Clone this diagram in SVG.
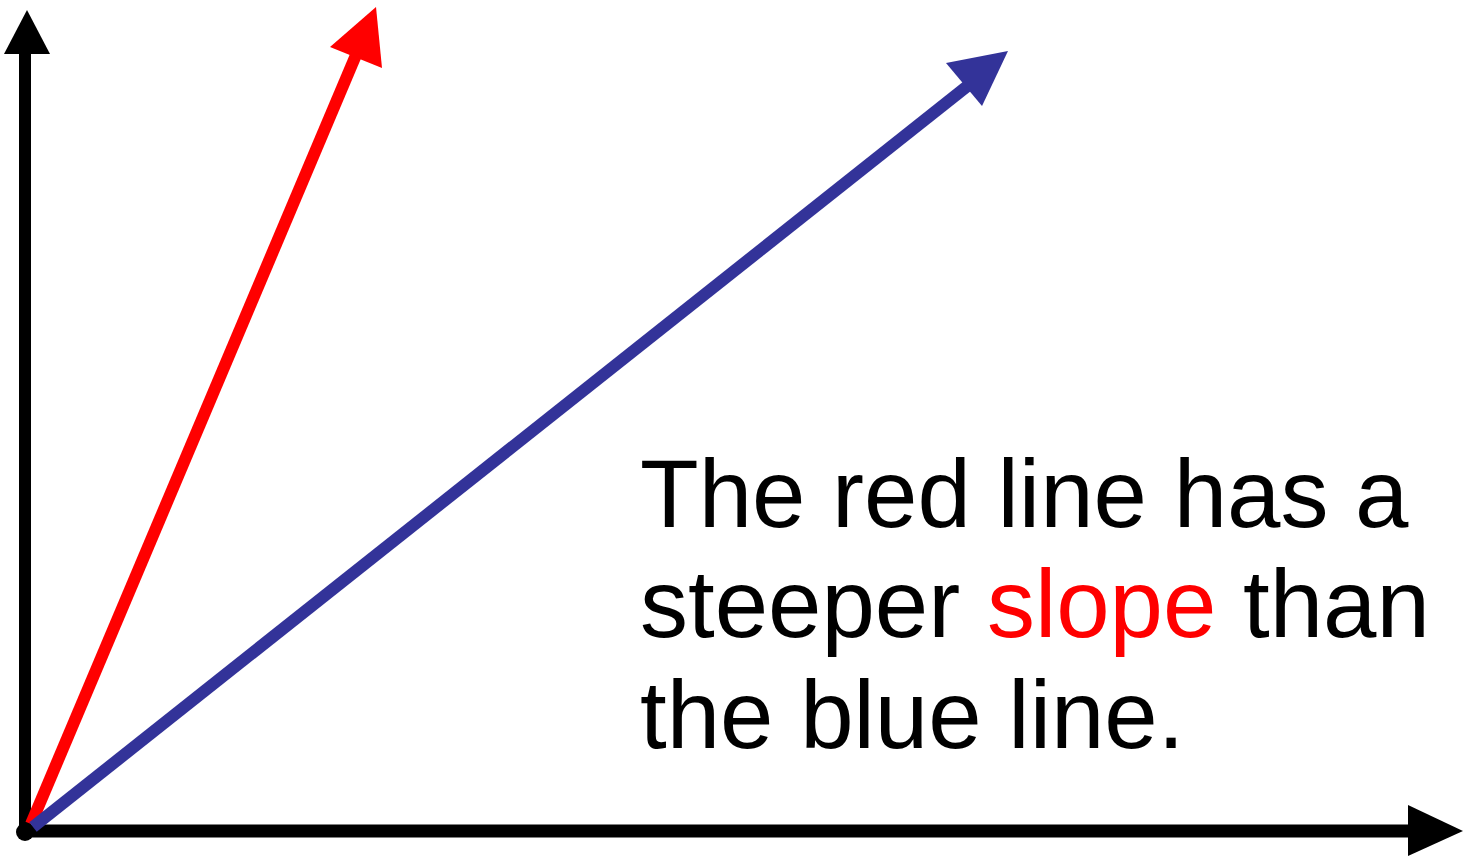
<svg xmlns="http://www.w3.org/2000/svg" width="1463" height="860" viewBox="0 0 1463 860">
<style>
.t{font-family:"Liberation Sans",Arial,sans-serif;font-size:96px;fill:#000}
.r{fill:#ff0000}
</style>
<rect width="1463" height="860" fill="#fff"/>
<g id="connectors">
<line x1="25" y1="831" x2="25" y2="52" stroke="#000" stroke-width="12"/>
<polygon points="27,10 4,54 50,54" fill="#000"/>
<line x1="25" y1="831" x2="1410" y2="831" stroke="#000" stroke-width="13"/>
<polygon points="1463,831 1408,805 1408,856" fill="#000"/>
<circle cx="25" cy="832" r="9" fill="#000"/>
<line x1="31" y1="824" x2="356" y2="55" stroke="#ff0000" stroke-width="12"/>
<polygon points="376,7 330,47 382,68" fill="#ff0000"/>
<line x1="33" y1="827" x2="970" y2="84" stroke="#333399" stroke-width="12"/>
<polygon points="1008,51 946,63 982,106" fill="#333399"/>
</g>
<g id="label">
<text class="t" x="640" y="527">The red line has a</text>
<text class="t" x="640" y="637">steeper <tspan class="r">slope</tspan> than</text>
<text class="t" x="640" y="748">the blue line.</text>
</g>
</svg>
